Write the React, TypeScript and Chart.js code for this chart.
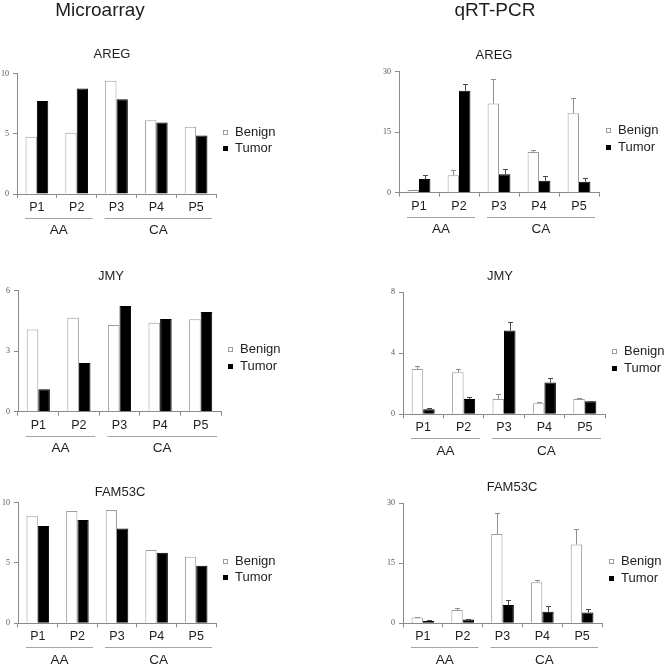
import React, { useEffect, useRef } from "react";
import { Chart, registerables } from "chart.js";

Chart.register(...registerables);

// ---------------- data ----------------
const categories = ["P1", "P2", "P3", "P4", "P5"];
const seriesLabels = ["Benign", "Tumor"];
const groupLabels = ["AA", "CA"];
const groupStart = [0, 2];
const groupEnd = [1, 4];
const columnHeaders = ["Microarray", "qRT-PCR"];
const geneNames = ["AREG", "JMY", "FAM53C"];

// Microarray
const aregMicroBenign = [4.75, 5.08, 9.39, 6.13, 5.58];
const aregMicroTumor = [7.71, 8.76, 7.87, 5.94, 4.86];
const jmyMicroBenign = [4.08, 4.66, 4.3, 4.41, 4.58];
const jmyMicroTumor = [1.11, 2.41, 5.24, 4.6, 4.94];
const famMicroBenign = [8.92, 9.31, 9.39, 6.08, 5.52];
const famMicroTumor = [8.07, 8.56, 7.87, 5.86, 4.78];

// qRT-PCR (mean and upper error)
const aregPcrBenign = [0.66, 4.3, 22.1, 10.1, 19.7];
const aregPcrBenignErr = [0.1, 1.3, 6.2, 0.6, 3.7];
const aregPcrTumor = [3.39, 25.3, 4.55, 2.98, 2.73];
const aregPcrTumorErr = [1.0, 1.6, 1.3, 1.2, 0.8];
const jmyPcrBenign = [2.97, 2.75, 1.0, 0.72, 1.0];
const jmyPcrBenignErr = [0.23, 0.25, 0.33, 0.07, 0.07];
const jmyPcrTumor = [0.33, 1.0, 5.49, 2.08, 0.85];
const jmyPcrTumorErr = [0.11, 0.16, 0.59, 0.28, 0.05];
const famPcrBenign = [1.42, 3.33, 22.3, 10.25, 19.7];
const famPcrBenignErr = [0.16, 0.42, 5.2, 0.5, 3.9];
const famPcrTumor = [0.58, 0.92, 4.58, 2.9, 2.67];
const famPcrTumorErr = [0.17, 0.25, 1.25, 1.35, 0.91];

// y-axis ticks
const aregMicroTicks = [0, 5, 10];
const jmyMicroTicks = [0, 3, 6];
const famMicroTicks = [0, 5, 10];
const aregPcrTicks = [0, 15, 30];
const jmyPcrTicks = [0, 4, 8];
const famPcrTicks = [0, 15, 30];

// ---------------- styles ----------------
const FONT = "'Liberation Sans', Arial, sans-serif";
const TEXT = "#1e1e1e";
const AXIS = "#8a8a8a";
const BENIGN_FILL = "#ffffff";
const BENIGN_BORDER = "#9c9c9c";
const TUMOR_FILL = "#000000";
const ERR_COLORS = ["#8f8f8f", "#4a4a4a"];

interface Panel {
  title: string;
  header?: string;
  headerAt?: [number, number];
  benign: number[];
  tumor: number[];
  benignErr?: number[];
  tumorErr?: number[];
  ticks: number[];
  box: { left: number; top: number; width: number; height: number };
  area: { l: number; t: number; r: number; b: number };
  titleAt: [number, number];
}

const panels: Panel[] = [
  {
    title: geneNames[0], header: columnHeaders[0], headerAt: [100, 10.5],
    benign: aregMicroBenign, tumor: aregMicroTumor, ticks: aregMicroTicks,
    box: { left: 0, top: 0, width: 330, height: 245 },
    area: { l: 17, t: 73.5, r: 216, b: 194 }, titleAt: [112, 54],
  },
  {
    title: geneNames[0], header: columnHeaders[1], headerAt: [495, 10.5],
    benign: aregPcrBenign, tumor: aregPcrTumor, benignErr: aregPcrBenignErr, tumorErr: aregPcrTumorErr,
    ticks: aregPcrTicks,
    box: { left: 332, top: 0, width: 332, height: 245 },
    area: { l: 399, t: 71.7, r: 599, b: 192.7 }, titleAt: [494, 55],
  },
  {
    title: geneNames[1],
    benign: jmyMicroBenign, tumor: jmyMicroTumor, ticks: jmyMicroTicks,
    box: { left: 0, top: 255, width: 330, height: 205 },
    area: { l: 18, t: 290.7, r: 221, b: 411.7 }, titleAt: [111, 276],
  },
  {
    title: geneNames[1],
    benign: jmyPcrBenign, tumor: jmyPcrTumor, benignErr: jmyPcrBenignErr, tumorErr: jmyPcrTumorErr,
    ticks: jmyPcrTicks,
    box: { left: 332, top: 255, width: 332, height: 205 },
    area: { l: 403, t: 292.3, r: 605, b: 414.3 }, titleAt: [500, 276],
  },
  {
    title: geneNames[2],
    benign: famMicroBenign, tumor: famMicroTumor, ticks: famMicroTicks,
    box: { left: 0, top: 462, width: 330, height: 203 },
    area: { l: 18, t: 502.7, r: 216, b: 623.3 }, titleAt: [120, 492.5],
  },
  {
    title: geneNames[2],
    benign: famPcrBenign, tumor: famPcrTumor, benignErr: famPcrBenignErr, tumorErr: famPcrTumorErr,
    ticks: famPcrTicks,
    box: { left: 332, top: 462, width: 332, height: 203 },
    area: { l: 403, t: 503.3, r: 602, b: 623.3 }, titleAt: [512, 487.5],
  },
];

function makeDecor(p: Panel) {
  return {
    id: "panelDecor",
    afterDatasetsDraw(chart: any) {
      const ctx = chart.ctx;
      const yScale = chart.scales.y;
      const errs = [p.benignErr, p.tumorErr];
      ctx.save();
      errs.forEach((err, di) => {
        if (!err) return;
        const meta = chart.getDatasetMeta(di);
        const values = chart.data.datasets[di].data as number[];
        meta.data.forEach((bar: any, i: number) => {
          const topY = Math.round(yScale.getPixelForValue(values[i] + err[i])) + 0.5;
          const cx = Math.round(bar.x) + 0.5;
          ctx.strokeStyle = ERR_COLORS[di];
          ctx.lineWidth = 1;
          ctx.beginPath();
          ctx.moveTo(cx, bar.y);
          ctx.lineTo(cx, topY);
          ctx.moveTo(cx - 2.5, topY);
          ctx.lineTo(cx + 2.5, topY);
          ctx.stroke();
        });
      });
      ctx.restore();
    },
    afterDraw(chart: any) {
      const ctx = chart.ctx;
      const a = chart.chartArea;
      const ox = p.box.left;
      const oy = p.box.top;
      ctx.save();
      ctx.fillStyle = TEXT;
      ctx.textAlign = "center";
      ctx.textBaseline = "middle";
      // panel title
      ctx.font = `13px ${FONT}`;
      ctx.fillText(p.title, p.titleAt[0] - ox, p.titleAt[1] - oy);
      // column header
      if (p.header && p.headerAt) {
        ctx.font = `19px ${FONT}`;
        ctx.fillText(p.header, p.headerAt[0] - ox, p.headerAt[1] - oy);
      }
      // group brackets
      const w = (a.right - a.left) / categories.length;
      const ly = Math.round(a.bottom + 24) + 0.5;
      groupLabels.forEach((g, i) => {
        const x1 = a.left + groupStart[i] * w + 8;
        const x2 = a.left + (groupEnd[i] + 1) * w - 4;
        ctx.strokeStyle = "#a4a4a4";
        ctx.lineWidth = 1.2;
        ctx.beginPath();
        ctx.moveTo(x1, ly);
        ctx.lineTo(x2, ly);
        ctx.stroke();
        ctx.fillStyle = TEXT;
        ctx.font = `13.5px ${FONT}`;
        ctx.fillText(g, (x1 + x2) / 2, a.bottom + 36.5);
      });
      // legend
      const lx = Math.round(a.right + 7);
      const cy = (a.top + a.bottom) / 2 - 2;
      chart.data.datasets.forEach((ds: any, i: number) => {
        const yy = Math.round(cy + i * 16.5);
        ctx.fillStyle = ds.backgroundColor;
        ctx.fillRect(lx, yy - 2, 5, 5);
        ctx.strokeStyle = ds.borderColor;
        ctx.lineWidth = 1;
        ctx.strokeRect(lx + 0.5, yy - 1.5, 4, 4);
        ctx.fillStyle = TEXT;
        ctx.textAlign = "left";
        ctx.font = `13px ${FONT}`;
        ctx.fillText(ds.label, lx + 12, yy + 0.5);
      });
      ctx.restore();
    },
  };
}

function BarPanel({ p }: { p: Panel }) {
  const ref = useRef<HTMLCanvasElement | null>(null);
  useEffect(() => {
    const cv = ref.current;
    if (!cv) return;
    const { box, area } = p;
    const padTop = area.t - box.top;
    const padRight = box.left + box.width - area.r;
    const yW = area.l - box.left;
    const xH = box.top + box.height - area.b;
    const chart = new Chart(cv, {
      type: "bar",
      data: {
        labels: categories,
        datasets: [
          {
            label: seriesLabels[0],
            data: p.benign,
            backgroundColor: BENIGN_FILL,
            borderColor: BENIGN_BORDER,
            borderWidth: 1,
          },
          {
            label: seriesLabels[1],
            data: p.tumor,
            backgroundColor: TUMOR_FILL,
            borderColor: TUMOR_FILL,
            borderWidth: 1,
          },
        ],
      },
      options: {
        responsive: false,
        animation: false,
        devicePixelRatio: 1,
        events: [],
        layout: { padding: { left: 0, top: padTop, right: padRight, bottom: 0 } },
        datasets: { bar: { categoryPercentage: 0.57, barPercentage: 1 } },
        plugins: {
          legend: { display: false },
          tooltip: { enabled: false },
          title: { display: false },
        },
        scales: {
          x: {
            type: "category",
            offset: true,
            grid: {
              display: true,
              offset: true,
              drawOnChartArea: false,
              drawTicks: true,
              tickLength: 4,
              color: AXIS,
            },
            border: { display: true, color: AXIS, width: 1 },
            ticks: { font: { family: FONT, size: 12.5 }, color: TEXT, padding: 2, maxRotation: 0 },
            afterFit: (s: any) => {
              s.height = xH;
            },
          },
          y: {
            min: p.ticks[0],
            max: p.ticks[p.ticks.length - 1],
            grid: {
              display: true,
              drawOnChartArea: false,
              drawTicks: true,
              tickLength: 4,
              color: AXIS,
            },
            border: { display: true, color: AXIS, width: 1 },
            ticks: {
              stepSize: p.ticks[1] - p.ticks[0],
              font: { family: "'Liberation Serif', serif", size: 8 },
              color: "#555555",
              padding: 4,
            },
            afterFit: (s: any) => {
              s.width = yW;
            },
          },
        },
      } as any,
      plugins: [makeDecor(p)],
    });
    return () => chart.destroy();
  }, [p]);
  return (
    <canvas
      ref={ref}
      width={p.box.width}
      height={p.box.height}
      style={{
        position: "absolute",
        left: p.box.left,
        top: p.box.top,
        width: p.box.width,
        height: p.box.height,
      }}
    />
  );
}

export default function App() {
  return (
    <div
      style={{
        position: "absolute",
        left: 0,
        top: 0,
        width: 664,
        height: 665,
        background: "#ffffff",
        overflow: "hidden",
      }}
    >
      {panels.map((p, i) => (
        <BarPanel key={i} p={p} />
      ))}
    </div>
  );
}
